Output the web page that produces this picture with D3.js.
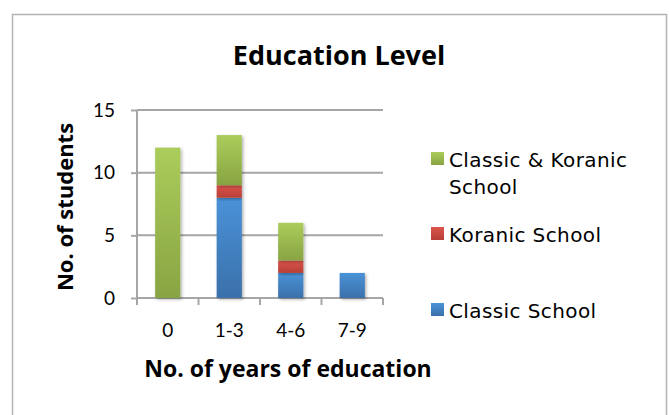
<!DOCTYPE html>
<html>
<head>
<meta charset="utf-8">
<script src="https://cdn.jsdelivr.net/npm/d3@7"></script>
<style>
  html, body { margin: 0; padding: 0; background: #fff; }
  svg { display: block; }
</style>
</head>
<body>
<svg id="chart" width="669" height="415"></svg>
<script>
// Number of students per education-length group, split by school type
const categories = ["0", "1-3", "4-6", "7-9"];
const classicSchool = [0, 8, 2, 2];
const koranicSchool = [0, 1, 1, 0];
const classicKoranic = [12, 4, 3, 0];
const yTicks = [0, 5, 10, 15];

const seriesKeys = ["classic", "koranic", "both"];

const rows = categories.map((c, i) => ({
  cat: c,
  classic: classicSchool[i],
  koranic: koranicSchool[i],
  both: classicKoranic[i]
}));

const svg = d3.select("#chart");

// outer chart frame
svg.append("rect")
  .attr("x", 12.5).attr("y", 14.5)
  .attr("width", 654).attr("height", 420)
  .attr("fill", "#fff")
  .attr("stroke", "#b3b3b3").attr("stroke-width", 1.5);

const plot = { left: 137, right: 383, top: 110, bottom: 298 };

const x = d3.scaleBand()
  .domain(categories)
  .range([plot.left, plot.right])
  .paddingInner(0.59).paddingOuter(0.295);

const y = d3.scaleLinear().domain([0, 15]).range([plot.bottom, plot.top]);

const defs = svg.append("defs");
const grads = {
  classic: ["#4a92d8", "#3a70aa"],
  koranic: ["#dc554c", "#b63f37"],
  both: ["#abcd5b", "#88a443"]
};
Object.entries(grads).forEach(([k, [c0, c1]]) => {
  const g = defs.append("linearGradient").attr("id", "g-" + k)
    .attr("x1", 0).attr("y1", 0).attr("x2", 0).attr("y2", 1);
  g.append("stop").attr("offset", "0%").attr("stop-color", c0);
  g.append("stop").attr("offset", "100%").attr("stop-color", c1);
});
const sh = defs.append("filter").attr("id", "shadow")
  .attr("x", "-30%").attr("y", "-10%").attr("width", "160%").attr("height", "130%");
sh.append("feDropShadow").attr("dx", 1.5).attr("dy", 1.5).attr("stdDeviation", 1.5)
  .attr("flood-color", "#000").attr("flood-opacity", 0.3);

// horizontal gridlines
svg.append("g").selectAll("line").data(yTicks.filter(t => t > 0)).join("line")
  .attr("x1", plot.left).attr("x2", plot.right)
  .attr("y1", d => y(d)).attr("y2", d => y(d))
  .attr("stroke", "#a6a6a6").attr("stroke-width", 2);

// y axis
const yAxis = svg.append("g").attr("transform", `translate(${plot.left},0)`)
  .call(d3.axisLeft(y).tickValues(yTicks).tickSize(6).tickPadding(16));
yAxis.select(".domain").attr("stroke", "#a6a6a6").attr("stroke-width", 2)
  .attr("d", `M0,${plot.top}V${plot.bottom}`);
yAxis.selectAll(".tick line").attr("stroke", "#a6a6a6").attr("stroke-width", 2);
yAxis.selectAll(".tick text")
  .attr("font-family", "Lato, 'Open Sans', sans-serif")
  .attr("font-size", 19).attr("fill", "#000");

// x axis with tick marks at category boundaries
const xAxisG = svg.append("g").attr("transform", `translate(0,${plot.bottom})`);
xAxisG.append("line")
  .attr("x1", plot.left).attr("x2", plot.right)
  .attr("stroke", "#a6a6a6").attr("stroke-width", 2);
const step = x.step();
const bounds = d3.range(categories.length + 1).map(i => plot.left + i * step);
xAxisG.selectAll("line.b").data(bounds).join("line").attr("class", "b")
  .attr("x1", d => d).attr("x2", d => d).attr("y1", 0).attr("y2", 7)
  .attr("stroke", "#a6a6a6").attr("stroke-width", 2);
xAxisG.selectAll("text").data(categories).join("text")
  .attr("x", d => x(d) + x.bandwidth() / 2).attr("y", 39)
  .attr("text-anchor", "middle")
  .attr("font-family", "Lato, 'Open Sans', sans-serif")
  .attr("font-size", 19).attr("fill", "#000")
  .text(d => d);

// stacked bars
const stack = d3.stack().keys(seriesKeys)(rows);
svg.append("g").selectAll("g").data(stack).join("g")
  .attr("fill", d => `url(#g-${d.key})`)
  .selectAll("rect").data(d => d.filter(s => s[1] - s[0] > 0)).join("rect")
  .attr("x", d => x(d.data.cat))
  .attr("width", x.bandwidth())
  .attr("y", d => y(d[1]))
  .attr("height", d => y(d[0]) - y(d[1]))
  .attr("filter", "url(#shadow)");

// titles
svg.append("text")
  .attr("x", 339).attr("y", 65)
  .attr("text-anchor", "middle")
  .attr("font-family", "'Open Sans', sans-serif")
  .attr("font-weight", "bold").attr("font-size", 27)
  .text("Education Level");

svg.append("text")
  .attr("x", 288).attr("y", 377)
  .attr("text-anchor", "middle")
  .attr("font-family", "'Open Sans', sans-serif")
  .attr("font-weight", "bold").attr("font-size", 23)
  .text("No. of years of education");

svg.append("text")
  .attr("transform", "translate(73,207) rotate(-90)")
  .attr("text-anchor", "middle")
  .attr("font-family", "'Open Sans', sans-serif")
  .attr("font-weight", "bold").attr("font-size", 22)
  .text("No. of students");

// legend
const legendItems = [
  { key: "both", lines: ["Classic & Koranic", "School"], y: 152 },
  { key: "koranic", lines: ["Koranic School"], y: 227 },
  { key: "classic", lines: ["Classic School"], y: 303 }
];
const lg = svg.append("g");
legendItems.forEach(it => {
  lg.append("rect").attr("x", 431).attr("y", it.y)
    .attr("width", 13).attr("height", 13)
    .attr("fill", `url(#g-${it.key})`);
  const t = lg.append("text")
    .attr("font-family", "'DejaVu Sans', sans-serif")
    .attr("font-size", 20).attr("letter-spacing", 0.4).attr("fill", "#000");
  it.lines.forEach((ln, i) => {
    t.append("tspan").attr("x", 449).attr("y", it.y + 15 + i * 27).text(ln);
  });
});
</script>
</body>
</html>
